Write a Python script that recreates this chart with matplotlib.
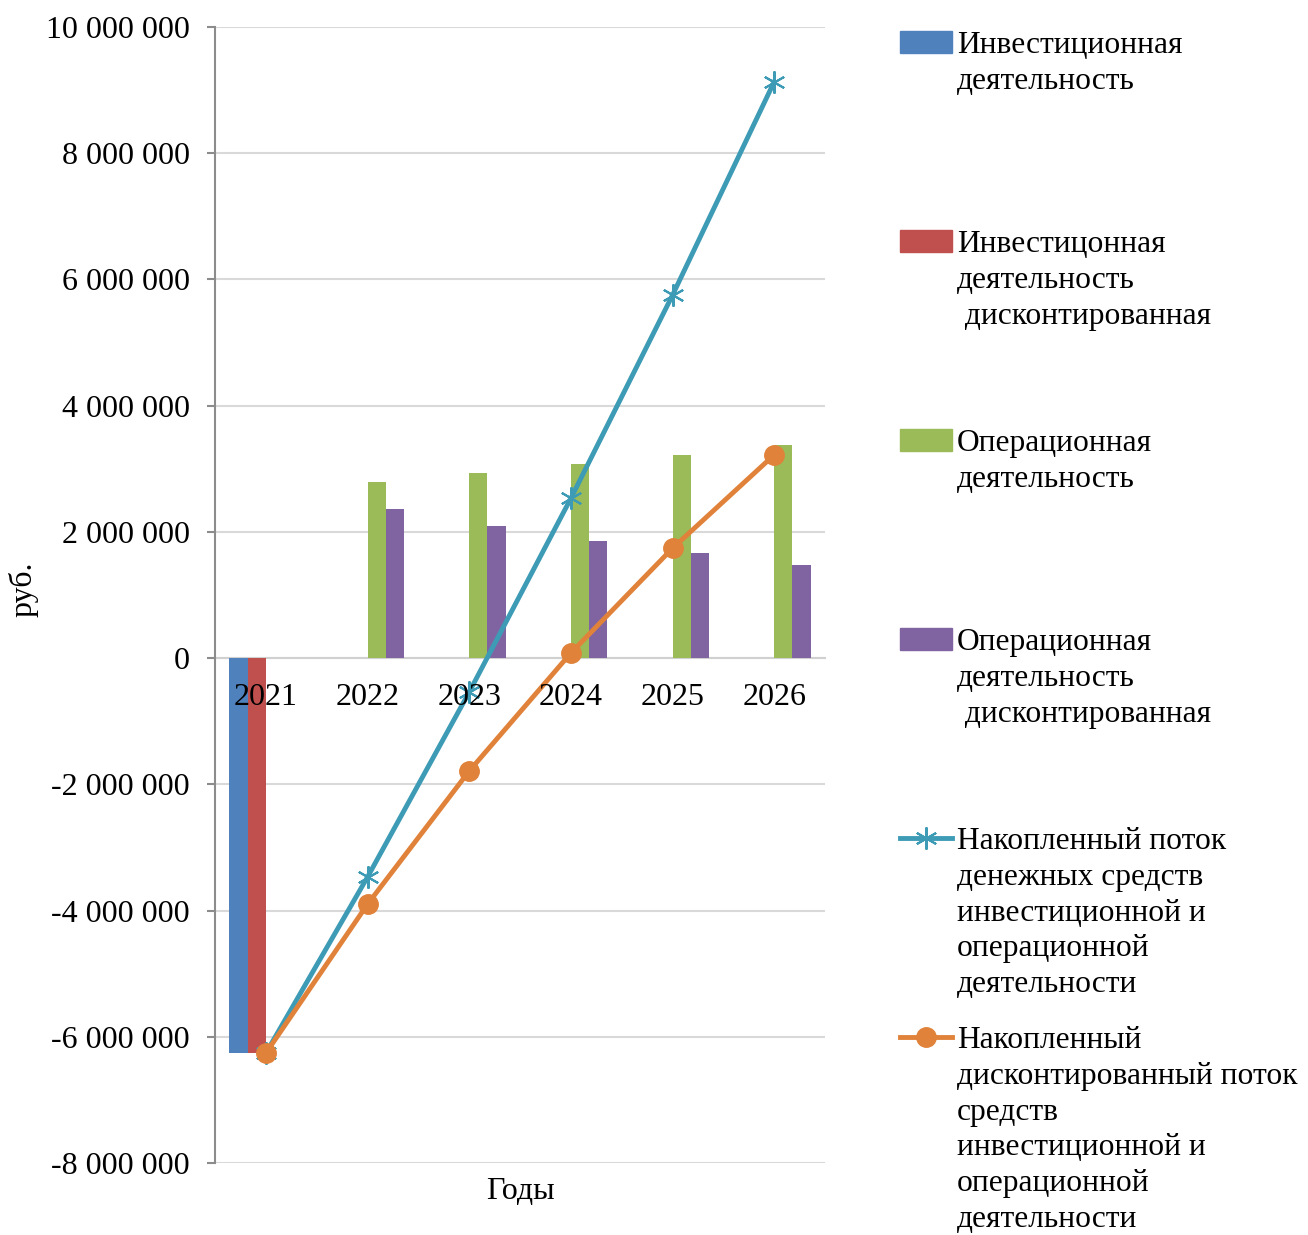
import numpy as np
import matplotlib
matplotlib.use("Agg")
import matplotlib.pyplot as plt
from matplotlib.patches import Patch
from matplotlib.lines import Line2D
from matplotlib.ticker import FuncFormatter

plt.rcParams["font.family"] = ["Liberation Serif", "DejaVu Serif"]
plt.rcParams["axes.unicode_minus"] = False

# data (rub.)
years = ["2021", "2022", "2023", "2024", "2025", "2026"]
invest = [-6260000, 0, 0, 0, 0, 0]
invest_disc = [-6260000, 0, 0, 0, 0, 0]
oper = [0, 2790000, 2930000, 3070000, 3220000, 3380000]
oper_disc = [0, 2360000, 2090000, 1850000, 1660000, 1470000]
cum_flow = [-6260000, -3470000, -540000, 2530000, 5750000, 9130000]
cum_disc = [-6260000, -3900000, -1790000, 80000, 1740000, 3220000]

labels = [
    "Инвестиционная\nдеятельность",
    "Инвестицонная\nдеятельность\n дисконтированная",
    "Операционная\nдеятельность",
    "Операционная\nдеятельность\n дисконтированная",
    "Накопленный поток\nденежных средств\nинвестиционной и\nоперационной\nдеятельности",
    "Накопленный\nдисконтированный поток\nсредств\nинвестиционной и\nоперационной\nдеятельности",
]

c_blue = "#4F81BD"
c_red = "#C0504D"
c_green = "#9BBB59"
c_purple = "#8064A2"
c_line1 = "#3D9BB5"
c_line2 = "#E0823A"

fig = plt.figure(figsize=(13.08, 12.35), dpi=100)
ax = fig.add_axes([215 / 1308, 1 - 1163 / 1235, 610 / 1308, 1136 / 1235])

x = np.arange(len(years))
w = 0.18
ax.bar(x - 1.5 * w, invest, w, color=c_blue, zorder=2)
ax.bar(x - 0.5 * w, invest_disc, w, color=c_red, zorder=2)
ax.bar(x + 0.5 * w, oper, w, color=c_green, zorder=2)
ax.bar(x + 1.5 * w, oper_disc, w, color=c_purple, zorder=2)

ax.plot(x, cum_flow, color=c_line1, lw=3.5, marker=(6, 2, 0), ms=16, mew=1.5,
        mec=c_line1, zorder=4)
ax.plot(x, cum_disc, color=c_line2, lw=3.5, marker="o", ms=14, mec=c_line2, zorder=5)

ax.set_xlim(-0.5, 5.5)
ax.set_ylim(-8000000, 10000000)
ax.set_yticks(np.arange(-8000000, 10000001, 2000000))
ax.yaxis.set_major_formatter(FuncFormatter(lambda v, p: f"{v:,.0f}".replace(",", " ")))
ax.grid(axis="y", color="#d9d9d9", lw=1.5)
ax.yaxis.set_zorder(0.5)
ax.xaxis.set_zorder(6)

for s in ["top", "right"]:
    ax.spines[s].set_visible(False)
ax.spines["left"].set_color("#8c8c8c")
ax.spines["left"].set_linewidth(1.5)
ax.spines["bottom"].set_position(("data", 0))
ax.spines["bottom"].set_color("#d0d0d0")
ax.spines["bottom"].set_linewidth(1.5)
ax.spines["bottom"].set_zorder(1)

ax.set_xticks(x)
ax.set_xticklabels(years)
ax.tick_params(axis="x", length=0, pad=18, labelsize=23)
ax.tick_params(axis="y", direction="out", length=6, width=1.5, color="#8c8c8c",
               labelsize=23, pad=12)

ax.set_xlabel("Годы", fontsize=23)
ax.xaxis.set_label_coords(0.5, -0.012)
ax.set_ylabel("руб.", fontsize=23)
ax.yaxis.set_label_coords(-0.29, 0.505)

handles = [
    Patch(color=c_blue),
    Patch(color=c_red),
    Patch(color=c_green),
    Patch(color=c_purple),
    Line2D([], [], color=c_line1, lw=3.5, marker=(6, 2, 0), ms=16, mew=1.5),
    Line2D([], [], color=c_line2, lw=3.5, marker="o", ms=14),
]
first_line = [43, 242, 441, 640, 839, 1038]
for h, lab, c in zip(handles, labels, first_line):
    leg = fig.legend([h], [lab], loc="upper left",
                     bbox_to_anchor=(900 / 1308, 1 - (c - 12) / 1235),
                     frameon=False, fontsize=22.7, handlelength=1.65, handletextpad=0.15,
                     borderpad=0, borderaxespad=0)
    for t in leg.get_texts():
        t.set_linespacing(1.31)
    for col in leg._legend_handle_box.get_children():
        for item in col.get_children():
            item.align = "top"

fig.savefig("out.png", dpi=100)
